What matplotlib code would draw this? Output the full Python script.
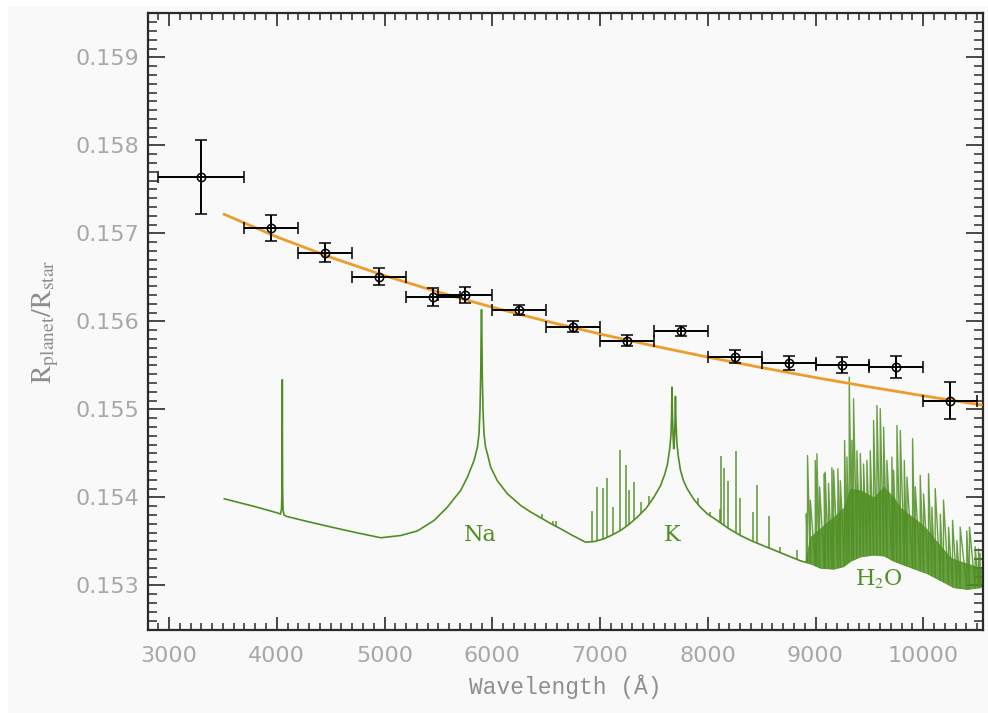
import numpy as np
import matplotlib
matplotlib.use("Agg")
import matplotlib.pyplot as plt
from matplotlib.ticker import MultipleLocator, FormatStrFormatter
from matplotlib.patches import Rectangle

# ---------------- data ----------------
# transmission spectrum points
wl = [3300, 3950, 4450, 4950, 5450, 5750, 6250, 6750, 7250, 7750, 8250, 8750, 9250, 9750, 10250]
wl_err = [400, 250, 250, 250, 250, 250, 250, 250, 250, 250, 250, 250, 250, 250, 250]
rp = [0.15764, 0.15706, 0.15678, 0.15651, 0.15628, 0.15630, 0.15613, 0.15594, 0.15578,
      0.15589, 0.15560, 0.15553, 0.15550, 0.15548, 0.15510]
rp_err = [0.00042, 0.00015, 0.00011, 0.00010, 0.00010, 0.00009, 0.00006, 0.00006, 0.00006,
          0.00006, 0.00007, 0.00008, 0.00009, 0.000125, 0.00021]

# orange slope curve
curve_wl = [3500, 4000, 4500, 5000, 5500, 6000, 6500, 7000, 7500, 8000, 8500, 9000, 9500, 10000, 10550]
curve_rp = [0.157223, 0.156960, 0.156728, 0.156520, 0.156333, 0.156161, 0.156003, 0.155857,
            0.155721, 0.155594, 0.155475, 0.155362, 0.155256, 0.155155, 0.155049]

# green model spectrum: smooth continuum with broad Na / K wings
spec_wl = [3513, 3800, 4013, 4035, 4044, 4048, 4051, 4054, 4058, 4067, 4094, 4300, 4533, 4750,
           4966, 5151, 5306, 5460, 5583, 5707, 5769, 5831, 5862, 5877, 5886, 5893, 5897, 5900,
           5903, 5907, 5914, 5923, 5938, 5954, 5985, 6047, 6140, 6263, 6356, 6449, 6540, 6634,
           6750, 6866, 6950, 7036, 7110, 7191, 7270, 7345, 7430, 7500, 7560, 7600, 7625, 7645,
           7658, 7664, 7668, 7672, 7678, 7684, 7690, 7696, 7700, 7704, 7712, 7725, 7747, 7775,
           7809, 7870, 7932, 8000, 8087, 8190, 8303, 8420, 8551, 8700, 8860, 8906]
spec_rp = [0.153985, 0.153895, 0.153822, 0.153810, 0.153870, 0.154100, 0.155337, 0.154100,
           0.153860, 0.153800, 0.153784, 0.153722, 0.153656, 0.153597, 0.153542, 0.153568,
           0.153620, 0.153739, 0.153890, 0.154080, 0.154230, 0.154420, 0.154570, 0.154724,
           0.154990, 0.155410, 0.155900, 0.156133, 0.155900, 0.155410, 0.154990, 0.154724,
           0.154570, 0.154500, 0.154344, 0.154190, 0.154042, 0.153910, 0.153835, 0.153770,
           0.153705, 0.153644, 0.153565, 0.153492, 0.153500, 0.153530, 0.153572, 0.153625,
           0.153695, 0.153776, 0.153880, 0.154003, 0.154130, 0.154260, 0.154370, 0.154534,
           0.154700, 0.154900, 0.155253, 0.154950, 0.154700, 0.154553, 0.154650, 0.154850,
           0.155148, 0.154900, 0.154650, 0.154480, 0.154307, 0.154190, 0.154099, 0.153980,
           0.153889, 0.153810, 0.153739, 0.153650, 0.153568, 0.153500, 0.153435, 0.153360,
           0.153280, 0.153265]

# narrow line spikes above the continuum (wavelength, top)
line_wl = [6458, 6563, 6588, 6922, 6968, 7030, 7061, 7123, 7181, 7240, 7268, 7314, 7376, 7453,
           7494, 7911, 8025, 8118, 8127, 8148, 8186, 8263, 8303, 8418, 8458, 8566, 8674, 8829]
line_top = [0.153807, 0.15373, 0.15373, 0.153845, 0.154117, 0.15411, 0.154224, 0.15389,
            0.154534, 0.154364, 0.154088, 0.154174, 0.153947, 0.154011, 0.154003, 0.153996,
            0.153833, 0.15387, 0.15447, 0.154338, 0.154186, 0.154526, 0.15399, 0.15383,
            0.15414, 0.153795, 0.153435, 0.15340]

# water band forest: envelope of the dense part
h2o_wl = [8906, 8950, 9045, 9168, 9261, 9323, 9416, 9539, 9632, 9725, 9787, 9941, 10032, 10095,
          10250, 10281, 10404, 10528, 10550]
h2o_low = [0.153265, 0.15325, 0.15320, 0.15319, 0.15322, 0.15328, 0.15333, 0.15335, 0.15334,
           0.15328, 0.15325, 0.15318, 0.15314, 0.15310, 0.15300, 0.15298, 0.15296, 0.15298, 0.15300]
h2o_up = [0.153265, 0.15355, 0.15365, 0.15378, 0.15388, 0.15410, 0.15408, 0.15400, 0.15412,
          0.15400, 0.15388, 0.15374, 0.15364, 0.15354, 0.15332, 0.15330, 0.15325, 0.15320, 0.15318]
h2o_line_wl = [8915, 8926, 8952, 8998, 9013, 9038, 9082, 9090, 9121, 9152, 9168, 9208, 9230,
               9270, 9292, 9313, 9338, 9353, 9384, 9416, 9446, 9477, 9508, 9539, 9570, 9601,
               9632, 9663, 9709, 9725, 9756, 9787, 9824, 9849, 9901, 9926, 9972, 10003, 10049,
               10080, 10111, 10158, 10188, 10235, 10272, 10312, 10343, 10404, 10429, 10482,
               10513, 10528]
h2o_line_top = [0.153815, 0.154477, 0.15397, 0.15442, 0.154496, 0.15412, 0.15427, 0.154288,
                0.15416, 0.154338, 0.15431, 0.154326, 0.15419, 0.154648, 0.15446, 0.155367,
                0.15465, 0.155122, 0.15453, 0.15450, 0.15438, 0.15442, 0.15453, 0.154875,
                0.155045, 0.155008, 0.1548, 0.15442, 0.154458, 0.15431, 0.154818, 0.15476,
                0.15442, 0.15423, 0.154667, 0.15412, 0.15425, 0.15404, 0.15427, 0.15389,
                0.1541, 0.15381, 0.15397, 0.15366, 0.15374, 0.15351, 0.153663, 0.15362,
                0.153663, 0.15344, 0.153417, 0.15336]

labels = ["Na", "K", "H$_2$O"]
label_wl = [5893, 7673, 9583]
label_rp = [0.15357, 0.15357, 0.15308]

# ---------------- style ----------------
BG = "#f9f9f9"
GREEN = "#4f8f22"
ORANGE = "#ee9c2a"
TICKLBL = "#a8a8a8"
AXC = "#2a2a2a"

plt.rcParams["mathtext.fontset"] = "stix"

fig = plt.figure(figsize=(9.88, 7.13), dpi=100, facecolor="white")
fig.patches.append(Rectangle((8 / 988, 0), 1, 1 - 6 / 713, transform=fig.transFigure,
                             facecolor=BG, edgecolor="none", zorder=-10))
ax = fig.add_axes([147.5 / 988, 1 - 629.5 / 713, (982.5 - 147.5) / 988, (629.5 - 13.3) / 713])
ax.set_facecolor(BG)

# spectrum
ax.plot(spec_wl, spec_rp, color=GREEN, lw=1.2, zorder=2)
base = np.interp(line_wl, spec_wl, spec_rp)
ax.vlines(line_wl, base, line_top, color=GREEN, lw=1.2, alpha=0.85, zorder=2)
ax.fill_between(h2o_wl, h2o_low, h2o_up, color=GREEN, lw=0.6, alpha=0.85, zorder=2)
hbase = np.interp(h2o_line_wl, h2o_wl, h2o_low)
# forest drawn as a jagged trace: each line rises from the band floor to its top
fx = np.repeat(h2o_line_wl, 2)
fy = np.column_stack([hbase, h2o_line_top]).ravel()
ax.plot(fx, fy, color=GREEN, lw=1.0, alpha=0.85, zorder=2)

for t, x, y in zip(labels, label_wl, label_rp):
    ax.text(x, y, t, color=GREEN, fontsize=16, ha="center", va="center",
            family="DejaVu Serif", zorder=3)

# slope curve
ax.plot(curve_wl, curve_rp, color=ORANGE, lw=2.0, zorder=4, solid_capstyle="butt")

# data points
ax.errorbar(wl, rp, xerr=wl_err, yerr=rp_err, fmt="o", ms=6, mfc="none", mec="black",
            mew=1.1, ecolor="black", elinewidth=1.4, capsize=4, capthick=1.4, color="black",
            zorder=5)

# axes
ax.set_xlim(2800, 10550)
ax.set_ylim(0.1525, 0.1595)
ax.xaxis.set_major_locator(MultipleLocator(1000))
ax.xaxis.set_minor_locator(MultipleLocator(100))
ax.yaxis.set_major_locator(MultipleLocator(0.001))
ax.yaxis.set_minor_locator(MultipleLocator(0.0001))
ax.yaxis.set_major_formatter(FormatStrFormatter("%.3f"))
ax.tick_params(axis="both", which="both", direction="in", top=True, right=True,
               color=AXC, labelcolor=TICKLBL, labelsize=16)
ax.tick_params(axis="x", which="major", length=9.5, width=1.2, pad=12)
ax.tick_params(axis="x", which="minor", length=5, width=1.1)
ax.tick_params(axis="y", which="major", length=12, width=1.2, pad=6)
ax.tick_params(axis="y", which="minor", length=6.5, width=1.1)
for s in ax.spines.values():
    s.set_color(AXC)
    s.set_linewidth(1.6)

ax.set_xlabel("Wavelength (Å)", family="Liberation Mono", fontsize=16.5, color="#8e8e8e",
              labelpad=6)
ax.set_ylabel(r"$\mathrm{R_{planet}/R_{star}}$", fontsize=20, color="#8e8e8e", labelpad=10)

fig.savefig("out.png", dpi=100, facecolor=fig.get_facecolor())
